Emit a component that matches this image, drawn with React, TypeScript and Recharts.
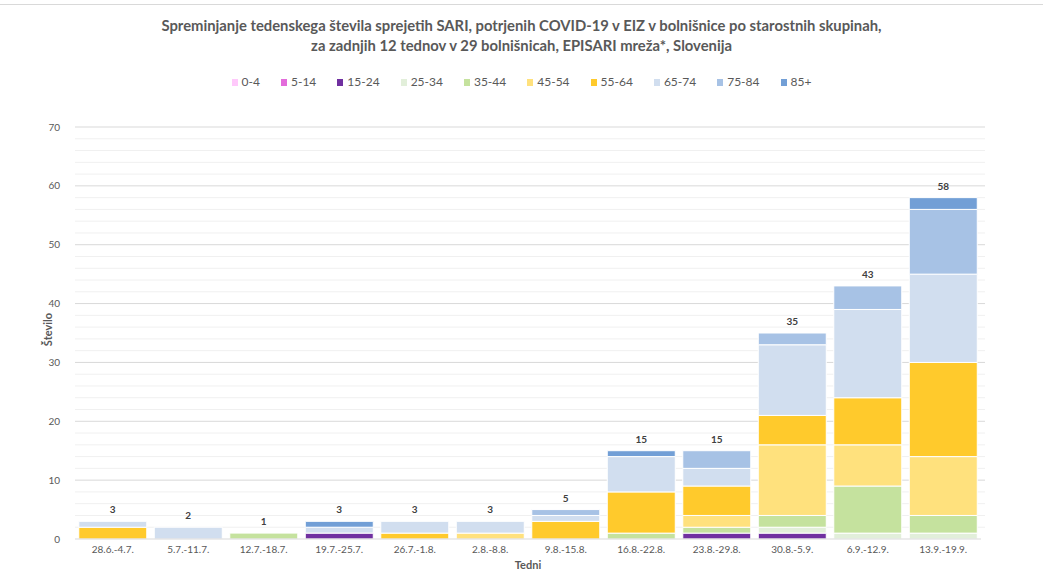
import React from "react";
import { Bar, CartesianGrid, ComposedChart, LabelList, Line, XAxis, YAxis } from "recharts";

const WEEKS = [
  "28.6.-4.7.",
  "5.7.-11.7.",
  "12.7.-18.7.",
  "19.7.-25.7.",
  "26.7.-1.8.",
  "2.8.-8.8.",
  "9.8.-15.8.",
  "16.8.-22.8.",
  "23.8.-29.8.",
  "30.8.-5.9.",
  "6.9.-12.9.",
  "13.9.-19.9.",
];

const AGE_GROUPS = ["0-4", "5-14", "15-24", "25-34", "35-44", "45-54", "55-64", "65-74", "75-84", "85+"];

const AGE_COLORS = [
  "#FFC9FB",
  "#E36CDB",
  "#7030A0",
  "#E2EFDA",
  "#C5E29E",
  "#FFE17D",
  "#FFCA2C",
  "#D1DEEF",
  "#A7C2E5",
  "#729FD6",
];

// counts per week, one array per age group
const AGE_0_4 = [0, 0, 0, 0, 0, 0, 0, 0, 0, 0, 0, 0];
const AGE_5_14 = [0, 0, 0, 0, 0, 0, 0, 0, 0, 0, 0, 0];
const AGE_15_24 = [0, 0, 0, 1, 0, 0, 0, 0, 1, 1, 0, 0];
const AGE_25_34 = [0, 0, 0, 0, 0, 0, 0, 0, 0, 1, 1, 1];
const AGE_35_44 = [0, 0, 1, 0, 0, 0, 0, 1, 1, 2, 8, 3];
const AGE_45_54 = [0, 0, 0, 0, 0, 1, 0, 0, 2, 12, 7, 10];
const AGE_55_64 = [2, 0, 0, 0, 1, 0, 3, 7, 5, 5, 8, 16];
const AGE_65_74 = [1, 2, 0, 1, 2, 2, 1, 6, 3, 12, 15, 15];
const AGE_75_84 = [0, 0, 0, 0, 0, 0, 1, 0, 3, 2, 4, 11];
const AGE_85 = [0, 0, 0, 1, 0, 0, 0, 1, 0, 0, 0, 2];

const SERIES = [AGE_0_4, AGE_5_14, AGE_15_24, AGE_25_34, AGE_35_44, AGE_45_54, AGE_55_64, AGE_65_74, AGE_75_84, AGE_85];

// ticks every 2, labelled every 10
const Y_TICKS = [0, 2, 4, 6, 8, 10, 12, 14, 16, 18, 20, 22, 24, 26, 28, 30, 32, 34, 36, 38, 40, 42, 44, 46, 48, 50, 52, 54, 56, 58, 60, 62, 64, 66, 68, 70];

const data = WEEKS.map((week, i) => {
  const row: Record<string, string | number> = { week };
  let total = 0;
  AGE_GROUPS.forEach((g, j) => {
    row[g] = SERIES[j][i];
    total += SERIES[j][i];
  });
  row.total = total;
  return row;
});

const FONT = "Lato, 'Open Sans', sans-serif";
const GREY = "#595959";

function gridLine(props: any) {
  const { x1, x2, y1, y2, index } = props;
  if (index === 0) return <g key={`g${index}`} />;
  const major = index % 5 === 0;
  return (
    <line
      key={`g${index}`}
      x1={x1}
      x2={x2 + 4}
      y1={y1}
      y2={y2}
      stroke={major ? "#D9D9D9" : "#F0F0F0"}
      strokeWidth={1}
    />
  );
}

function yTick(props: any) {
  const { x, y, payload } = props;
  if (payload.value % 10 !== 0) return <g />;
  return (
    <text x={x} y={y} dy={3.5} textAnchor="end" fontSize={10} fill={GREY} fontFamily={FONT}>
      {payload.value}
    </text>
  );
}

export default function App() {
  return (
    <div
      style={{
        position: "absolute",
        left: 0,
        top: 0,
        width: 1043,
        height: 571,
        background: "#fff",
        fontFamily: FONT,
        overflow: "hidden",
      }}
    >
      <div style={{ position: "absolute", left: 0, top: 4, width: 1043, height: 1, background: "#D9D9D9" }} />
      <div
        style={{
          position: "absolute",
          top: 15,
          left: 0,
          width: 1043,
          textAlign: "center",
          fontWeight: 700,
          fontSize: 14.8,
          lineHeight: "20px",
          color: GREY,
        }}
      >
        Spreminjanje tedenskega števila sprejetih SARI, potrjenih COVID-19 v EIZ v bolnišnice po starostnih skupinah,
        <br />
        za zadnjih 12 tednov v 29 bolnišnicah, EPISARI mreža*, Slovenija
      </div>
      <div
        style={{
          position: "absolute",
          top: 74,
          left: 0,
          width: 1043,
          display: "flex",
          justifyContent: "center",
          gap: 21,
          fontSize: 12,
          color: GREY,
          lineHeight: "16px",
        }}
      >
        {AGE_GROUPS.map((g, i) => (
          <span key={g} style={{ display: "inline-flex", alignItems: "center", gap: 4 }}>
            <span style={{ width: 6, height: 7, background: AGE_COLORS[i], display: "inline-block" }} />
            {g}
          </span>
        ))}
      </div>
      <div style={{ position: "absolute", left: 0, top: 0 }}>
        <ComposedChart
          width={1043}
          height={571}
          data={data}
          margin={{ top: 127, right: 62, bottom: 2, left: 0 }}
          barCategoryGap="5%"
        >
          <CartesianGrid vertical={false} horizontal={gridLine} />
          <XAxis
            dataKey="week"
            height={30}
            tickLine={false}
            tickSize={0}
            tickMargin={7}
            stroke="#D9D9D9"
            tick={{ fontSize: 10, fill: GREY, fontFamily: FONT }}
            interval={0}
          />
          <YAxis
            width={75}
            domain={[0, 70]}
            ticks={Y_TICKS}
            interval={0}
            axisLine={false}
            tickLine={false}
            tickMargin={9}
            tick={yTick}
          />
          {AGE_GROUPS.map((g, i) => (
            <Bar
              key={g}
              dataKey={g}
              stackId="a"
              fill={AGE_COLORS[i]}
              stroke="#fff"
              strokeWidth={1}
              isAnimationActive={false}
            />
          ))}
          {/* invisible series carrying the weekly totals above each stack */}
          <Line
            dataKey="total"
            stroke="none"
            dot={false}
            activeDot={false}
            legendType="none"
            isAnimationActive={false}
          >
            <LabelList
              dataKey="total"
              position="top"
              offset={8}
              style={{ fontSize: 10, fontWeight: 700, fill: "#404040", fontFamily: FONT }}
            />
          </Line>
        </ComposedChart>
      </div>
      <div
        style={{
          position: "absolute",
          left: 27,
          top: 323,
          transform: "rotate(-90deg)",
          transformOrigin: "center",
          fontSize: 11,
          fontWeight: 700,
          color: GREY,
          width: 40,
          textAlign: "center",
        }}
      >
        Število
      </div>
      <div
        style={{
          position: "absolute",
          left: 0,
          width: 1056,
          top: 558,
          textAlign: "center",
          fontSize: 11,
          fontWeight: 700,
          color: GREY,
        }}
      >
        Tedni
      </div>
    </div>
  );
}
